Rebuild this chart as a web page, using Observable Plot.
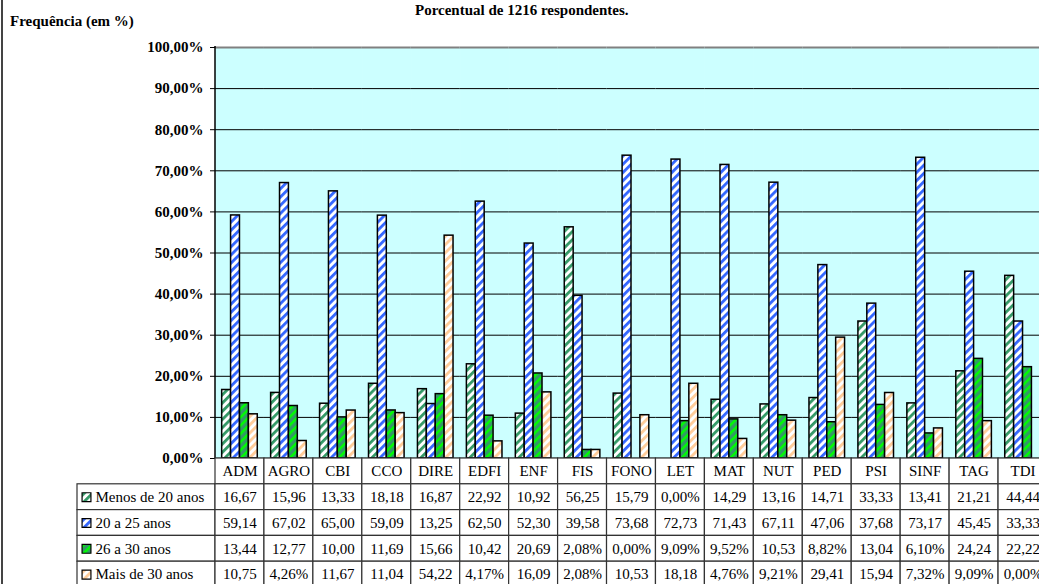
<!DOCTYPE html>
<html><head><meta charset="utf-8">
<script src="https://cdn.jsdelivr.net/npm/d3@7"></script>
<script src="https://cdn.jsdelivr.net/npm/@observablehq/plot@0.6"></script>
<style>
html,body{margin:0;padding:0;background:#fff;overflow:hidden;width:1039px;height:584px;}
#wrap{position:relative;width:1039px;height:584px;overflow:hidden;font-family:"Liberation Serif","Times New Roman",serif;}
#wrap svg{max-width:none !important;overflow:visible;}
.t{position:absolute;font-weight:bold;font-size:15px;line-height:17px;white-space:nowrap;color:#000}
#frameline{position:absolute;left:1px;top:0;width:2px;height:584px;background:#444}
</style></head><body>
<div id="wrap">
 <div id="chart" style="position:absolute;left:0;top:0"></div>
 <div id="legend" style="position:absolute;left:0;top:458px"></div>
 <div id="table" style="position:absolute;left:215px;top:458px"></div>
 <div id="frameline"></div>
 <div class="t" style="left:10px;top:13px">Frequência (em %)</div>
 <div class="t" style="left:415px;top:2px">Porcentual de 1216 respondentes.</div>
</div>
<script>
const categories = ["ADM","AGRO","CBI","CCO","DIRE","EDFI","ENF","FIS","FONO","LET","MAT","NUT","PED","PSI","SINF","TAG","TDI"];
const seriesNames = ["Menos de 20 anos","20 a 25 anos","26 a 30 anos","Mais de 30 anos"];
const menos20 = [16.67,15.96,13.33,18.18,16.87,22.92,10.92,56.25,15.79,0.00,14.29,13.16,14.71,33.33,13.41,21.21,44.44];
const de20a25 = [59.14,67.02,65.00,59.09,13.25,62.50,52.30,39.58,73.68,72.73,71.43,67.11,47.06,37.68,73.17,45.45,33.33];
const de26a30 = [13.44,12.77,10.00,11.69,15.66,10.42,20.69,2.08,0.00,9.09,9.52,10.53,8.82,13.04,6.10,24.24,22.22];
const mais30 = [10.75,4.26,11.67,11.04,54.22,4.17,16.09,2.08,10.53,18.18,4.76,9.21,29.41,15.94,7.32,9.09,0.00];
const yTicks = [0,10,20,30,40,50,60,70,80,90,100];
const headerRow = "Curso";

const seriesValues = [menos20, de20a25, de26a30, mais30];
const patternIds = ["pMenos","p2025","p2630","pMais"];
const patternUrls = patternIds.map(id => `url(#${id})`);

const barData = [];
categories.forEach((cat, i) => seriesNames.forEach((s, j) => barData.push({cat, series: s, value: seriesValues[j][i]})));

const fmtTick = d => d.toFixed(2).replace(".", ",") + "%";
const fmtCell = v => v < 10 ? v.toFixed(2).replace(".", ",") + "%" : v.toFixed(2).replace(".", ",");

const W = 1047, ML = 215;

const chart = Plot.plot({
  width: W, height: 460,
  marginLeft: ML, marginRight: 0, marginTop: 47, marginBottom: 2,
  style: {fontFamily: "'Liberation Serif', 'Times New Roman', serif", fontSize: "15px", fontWeight: "bold", background: "transparent", overflow: "visible", maxWidth: "none", color: "#000"},
  fx: {domain: categories, padding: 0, round: false, axis: null, label: null},
  x: {domain: seriesNames, paddingInner: 0, paddingOuter: 0.75, round: false, axis: null},
  y: {domain: [0, 100], ticks: yTicks, tickFormat: fmtTick, tickSize: 5, tickPadding: 7, label: null},
  color: {domain: seriesNames, range: patternUrls},
  marks: [
    Plot.frame({fill: "#ccffff", stroke: "#ccffff"}),
    Plot.ruleY(yTicks.slice(1, -1), {stroke: "#000", strokeWidth: 1}),
    Plot.ruleY([100], {stroke: "#808080", strokeWidth: 2}),
    Plot.barY(barData, {fx: "cat", x: "series", y1: 0, y2: "value", fill: "series", stroke: "#000", strokeWidth: 1.5}),
    Plot.ruleY([0], {stroke: "#000", strokeWidth: 1.5})
  ]
});
const svg = chart.tagName.toLowerCase() === "svg" ? chart : chart.querySelector("svg");

// patterns
const defs = d3.select(svg).insert("defs", ":first-child");
const P = 5.8;
const patSpec = [
  {id: patternIds[0], bg: "#ffffff", fg: "#339966", sw: 2.8},
  {id: patternIds[1], bg: "#ffffff", fg: "#3366ff", sw: 2.8},
  {id: patternIds[2], bg: "#339966", fg: "#00ff00", sw: 2.4},
  {id: patternIds[3], bg: "#ffffff", fg: "#ffcc99", sw: 2.8}
];
patSpec.forEach(p => {
  const pat = defs.append("pattern").attr("id", p.id).attr("patternUnits", "userSpaceOnUse")
    .attr("width", P).attr("height", P).attr("patternTransform", "rotate(45)");
  pat.append("rect").attr("width", P).attr("height", P).attr("fill", p.bg);
  pat.append("rect").attr("width", p.sw).attr("height", P).attr("fill", p.fg);
});
// left axis line from the plot's own y scale
const ys = chart.scale("y");
d3.select(svg).append("line").attr("x1", ML).attr("x2", ML)
  .attr("y1", ys.range[0] + 0.75).attr("y2", ys.range[1] - 1)
  .attr("stroke", "#000").attr("stroke-width", 1.5);
document.getElementById("chart").appendChild(chart);

// data table
const rows = [headerRow, ...seriesNames];
const cells = [];
categories.forEach((cat, i) => {
  cells.push({cat, row: headerRow, label: cat});
  seriesNames.forEach((s, j) => cells.push({cat, row: s, label: fmtCell(seriesValues[j][i])}));
});
const tableH = 129;
const table = Plot.plot({
  width: W - ML, height: tableH,
  marginLeft: 0, marginRight: 0, marginTop: 0, marginBottom: 0,
  style: {fontFamily: "'Liberation Serif', 'Times New Roman', serif", fontSize: "15px", background: "transparent", overflow: "visible", maxWidth: "none", color: "#000"},
  x: {domain: categories, padding: 0, round: false, axis: null},
  y: {domain: rows, padding: 0, round: false, axis: null},
  marks: [
    Plot.cell(cells, {x: "cat", y: "row", fill: "#fff", stroke: "#333", strokeWidth: 1.2}),
    Plot.text(cells, {x: "cat", y: "row", text: "label", fill: "#000", fontSize: 15})
  ]
});
document.getElementById("table").appendChild(table);

const legend = Plot.plot({
  width: ML, height: tableH,
  marginLeft: 77, marginRight: 0, marginTop: 0, marginBottom: 0,
  style: {fontFamily: "'Liberation Serif', 'Times New Roman', serif", fontSize: "15px", background: "transparent", overflow: "visible", maxWidth: "none", color: "#000"},
  x: {domain: [0, 1], axis: null},
  y: {domain: rows, padding: 0, round: false, axis: null},
  color: {domain: seriesNames, range: patternUrls},
  marks: [
    Plot.barX(seriesNames, {y: d => d, x1: 0, x2: 1, fill: "#fff", stroke: "#333", strokeWidth: 1.2}),
    Plot.dot(seriesNames, {y: d => d, x: 0, dx: 9, symbol: "square", r: 5, fill: d => d, stroke: "#000", strokeWidth: 1.2}),
    Plot.text(seriesNames, {y: d => d, x: 0, dx: 18, text: d => d, textAnchor: "start", fill: "#000", fontSize: 15})
  ]
});
document.getElementById("legend").appendChild(legend);
</script>
</body></html>
